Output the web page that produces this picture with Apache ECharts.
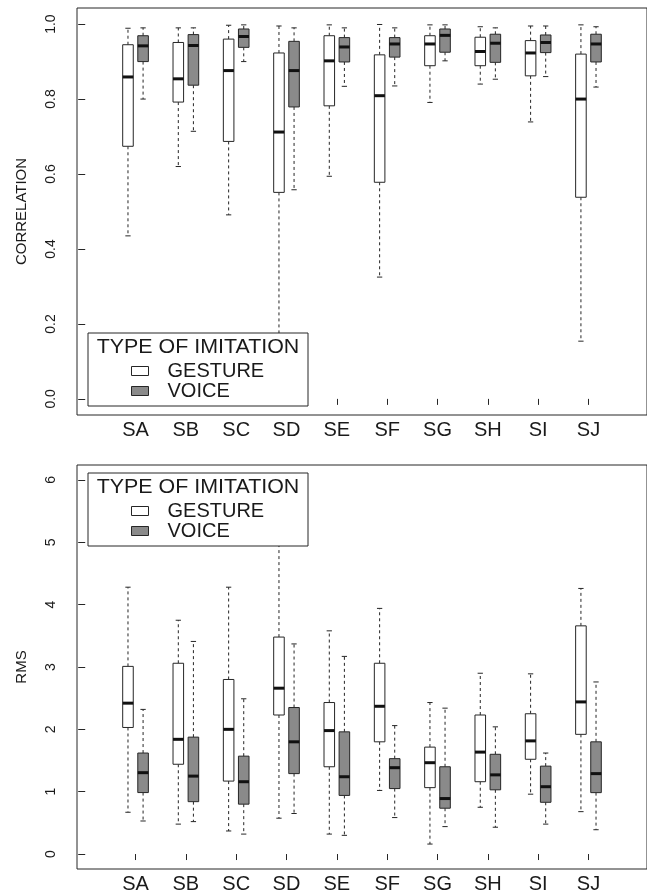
<!DOCTYPE html>
<html>
<head>
<meta charset="utf-8">
<script src="https://cdn.jsdelivr.net/npm/echarts@6/dist/echarts.min.js"></script>
<style>
  html, body { margin: 0; padding: 0; background: #fff; }
  #chart { width: 647px; height: 894px; }
</style>
</head>
<body>
<div id="chart"></div>
<script>
// Subjects along the x axis
const categories = ['SA', 'SB', 'SC', 'SD', 'SE', 'SF', 'SG', 'SH', 'SI', 'SJ'];

// Box statistics per subject: [min, q1, median, q3, max]
const corrGesture = [
  [0.435, 0.674, 0.859, 0.945, 0.989],
  [0.620, 0.792, 0.854, 0.951, 0.990],
  [0.491, 0.687, 0.876, 0.960, 0.997],
  [0.100, 0.551, 0.712, 0.923, 0.995],
  [0.594, 0.782, 0.902, 0.969, 0.998],
  [0.325, 0.578, 0.809, 0.918, 0.999],
  [0.791, 0.889, 0.947, 0.969, 0.998],
  [0.840, 0.889, 0.927, 0.965, 0.993],
  [0.739, 0.862, 0.923, 0.956, 0.995],
  [0.154, 0.538, 0.800, 0.920, 0.998]
];
const corrVoice = [
  [0.800, 0.900, 0.942, 0.969, 0.990],
  [0.714, 0.837, 0.943, 0.972, 0.990],
  [0.900, 0.938, 0.967, 0.987, 0.998],
  [0.558, 0.779, 0.876, 0.954, 0.990],
  [0.834, 0.899, 0.939, 0.964, 0.990],
  [0.835, 0.912, 0.947, 0.964, 0.990],
  [0.902, 0.925, 0.970, 0.987, 0.998],
  [0.853, 0.898, 0.949, 0.973, 0.990],
  [0.860, 0.924, 0.951, 0.971, 0.995],
  [0.832, 0.899, 0.947, 0.973, 0.993]
];
const rmsGesture = [
  [0.67, 2.03, 2.42, 3.01, 4.28],
  [0.48, 1.44, 1.84, 3.06, 3.75],
  [0.37, 1.17, 2.00, 2.80, 4.28],
  [0.575, 2.23, 2.66, 3.48, 5.30],
  [0.32, 1.40, 1.98, 2.43, 3.58],
  [1.02, 1.80, 2.37, 3.06, 3.94],
  [0.16, 1.065, 1.465, 1.715, 2.43],
  [0.75, 1.16, 1.635, 2.23, 2.90],
  [0.96, 1.52, 1.815, 2.25, 2.89],
  [0.68, 1.92, 2.44, 3.66, 4.26]
];
const rmsVoice = [
  [0.53, 0.986, 1.305, 1.62, 2.32],
  [0.52, 0.84, 1.25, 1.875, 3.41],
  [0.32, 0.80, 1.16, 1.57, 2.49],
  [0.65, 1.29, 1.80, 2.35, 3.37],
  [0.30, 0.94, 1.24, 1.96, 3.17],
  [0.585, 1.05, 1.385, 1.53, 2.06],
  [0.44, 0.735, 0.89, 1.40, 2.34],
  [0.43, 1.03, 1.27, 1.60, 2.04],
  [0.48, 0.83, 1.08, 1.41, 1.62],
  [0.39, 0.985, 1.29, 1.80, 2.76]
];

// Tick values
const corrTicks = [0, 0.2, 0.4, 0.6, 0.8, 1.0];
const rmsTicks = [0, 1, 2, 3, 4, 5, 6];
const catTicks = categories.map((c, i) => i + 1);

const FONT = 'Liberation Sans, Arial, Helvetica, sans-serif';
const INK = '#262626';
const TEXT = '#1a1a1a';
const GRAY_FILL = '#8a8a8a';

// Rows of [position, min, q1, median, q3, max]
function toRows(stats) {
  return stats.map((s, i) => [i + 1].concat(s));
}

// Draws one box-and-whisker glyph, shifted sideways by `shift` (in category units)
function boxRenderer(shift, fill) {
  return function (params, api) {
    const x = api.value(0);
    const unit = api.size([1, 0])[0];
    const cx = api.coord([x + shift, 0])[0];
    const hw = 0.105 * unit;
    const cap = hw * 0.5;
    const py = (k) => api.coord([x, api.value(k)])[1];
    const yMin = py(1), yQ1 = py(2), yMed = py(3), yQ3 = py(4), yMax = py(5);
    const dash = { stroke: INK, lineWidth: 1, lineDash: [3, 3] };
    const solid = { stroke: INK, lineWidth: 1 };
    return {
      type: 'group',
      children: [
        { type: 'line', shape: { x1: cx, y1: yQ3, x2: cx, y2: yMax }, style: dash },
        { type: 'line', shape: { x1: cx, y1: yQ1, x2: cx, y2: yMin }, style: dash },
        { type: 'line', shape: { x1: cx - cap, y1: yMax, x2: cx + cap, y2: yMax }, style: solid },
        { type: 'line', shape: { x1: cx - cap, y1: yMin, x2: cx + cap, y2: yMin }, style: solid },
        { type: 'rect', shape: { x: cx - hw, y: yQ3, width: 2 * hw, height: yQ1 - yQ3 },
          style: { fill: fill, stroke: INK, lineWidth: 1 } },
        { type: 'line', shape: { x1: cx - hw, y1: yMed, x2: cx + hw, y2: yMed },
          style: { stroke: '#111', lineWidth: 3 } }
      ]
    };
  };
}

const xRange = { min: -0.163, max: 11.163 };

function xAxis(gridIndex) {
  return {
    type: 'value', gridIndex: gridIndex, min: xRange.min, max: xRange.max,
    splitLine: { show: false },
    axisLine: { show: false },
    axisTick: { show: true, length: 6, customValues: catTicks, lineStyle: { color: INK } },
    axisLabel: {
      customValues: catTicks, margin: 5,
      formatter: (v) => categories[Math.round(v) - 1] || '',
      fontFamily: FONT, fontSize: 20, color: TEXT
    }
  };
}

function yAxis(gridIndex, name, min, max, ticks, digits) {
  return {
    type: 'value', gridIndex: gridIndex, min: min, max: max,
    name: name, nameLocation: 'middle', nameGap: 48,
    nameTextStyle: { fontFamily: FONT, fontSize: 15, color: TEXT },
    splitLine: { show: false },
    axisLine: { show: false },
    axisTick: { show: true, length: 7, customValues: ticks, lineStyle: { color: INK } },
    axisLabel: {
      customValues: ticks, rotate: 90, margin: 19,
      formatter: (v) => v.toFixed(digits),
      fontFamily: FONT, fontSize: 14, color: TEXT
    }
  };
}

function legendBlock(top) {
  return {
    top: top + 28, left: 131, orient: 'vertical', padding: 0, itemGap: 0,
    itemWidth: 17, itemHeight: 9, z: 20,
    textStyle: { fontFamily: FONT, fontSize: 20, color: TEXT, lineHeight: 18, padding: [0, 0, 0, 14] },
    data: [
      { name: 'GESTURE', icon: 'rect', itemStyle: { color: '#fff', borderColor: INK, borderWidth: 1 } },
      { name: 'VOICE', icon: 'rect', itemStyle: { color: GRAY_FILL, borderColor: INK, borderWidth: 1 } }
    ]
  };
}

function legendFrame(top) {
  return [
    { type: 'rect', z: 15, shape: { x: 88, y: top, width: 220, height: 73 },
      style: { fill: '#fff', stroke: INK, lineWidth: 1 } },
    { type: 'text', z: 16, x: 198, y: top + 14, scaleX: 1.07,
      style: { text: 'TYPE OF IMITATION', fontFamily: FONT, fontSize: 20, fill: TEXT,
               align: 'center', verticalAlign: 'middle' } }
  ];
}

const chart = echarts.init(document.getElementById('chart'), null, { renderer: 'canvas' });
chart.setOption({
  backgroundColor: '#fff',
  animation: false,
  grid: [
    { left: 77, top: 8, right: -5, height: 407, show: true, borderColor: INK, borderWidth: 1, backgroundColor: '#fff' },
    { left: 77, top: 465, right: -5, height: 407, show: true, borderColor: INK, borderWidth: 1, backgroundColor: '#fff' }
  ],
  xAxis: [xAxis(0), xAxis(1)],
  yAxis: [
    yAxis(0, 'CORRELATION', -0.043, 1.043, corrTicks, 1),
    yAxis(1, 'RMS', -0.24, 6.24, rmsTicks, 0)
  ],
  legend: [legendBlock(333), legendBlock(473)],
  graphic: legendFrame(333).concat(legendFrame(473)),
  series: [
    { name: 'GESTURE', type: 'custom', xAxisIndex: 0, yAxisIndex: 0, data: toRows(corrGesture),
      encode: { x: 0, y: [1, 2, 3, 4, 5] }, renderItem: boxRenderer(-0.15, '#fff'),
      itemStyle: { color: '#fff', borderColor: INK } },
    { name: 'VOICE', type: 'custom', xAxisIndex: 0, yAxisIndex: 0, data: toRows(corrVoice),
      encode: { x: 0, y: [1, 2, 3, 4, 5] }, renderItem: boxRenderer(0.15, GRAY_FILL),
      itemStyle: { color: GRAY_FILL, borderColor: INK } },
    { name: 'GESTURE', type: 'custom', xAxisIndex: 1, yAxisIndex: 1, data: toRows(rmsGesture),
      encode: { x: 0, y: [1, 2, 3, 4, 5] }, renderItem: boxRenderer(-0.15, '#fff'),
      itemStyle: { color: '#fff', borderColor: INK } },
    { name: 'VOICE', type: 'custom', xAxisIndex: 1, yAxisIndex: 1, data: toRows(rmsVoice),
      encode: { x: 0, y: [1, 2, 3, 4, 5] }, renderItem: boxRenderer(0.15, GRAY_FILL),
      itemStyle: { color: GRAY_FILL, borderColor: INK } }
  ]
});
</script>
</body>
</html>
